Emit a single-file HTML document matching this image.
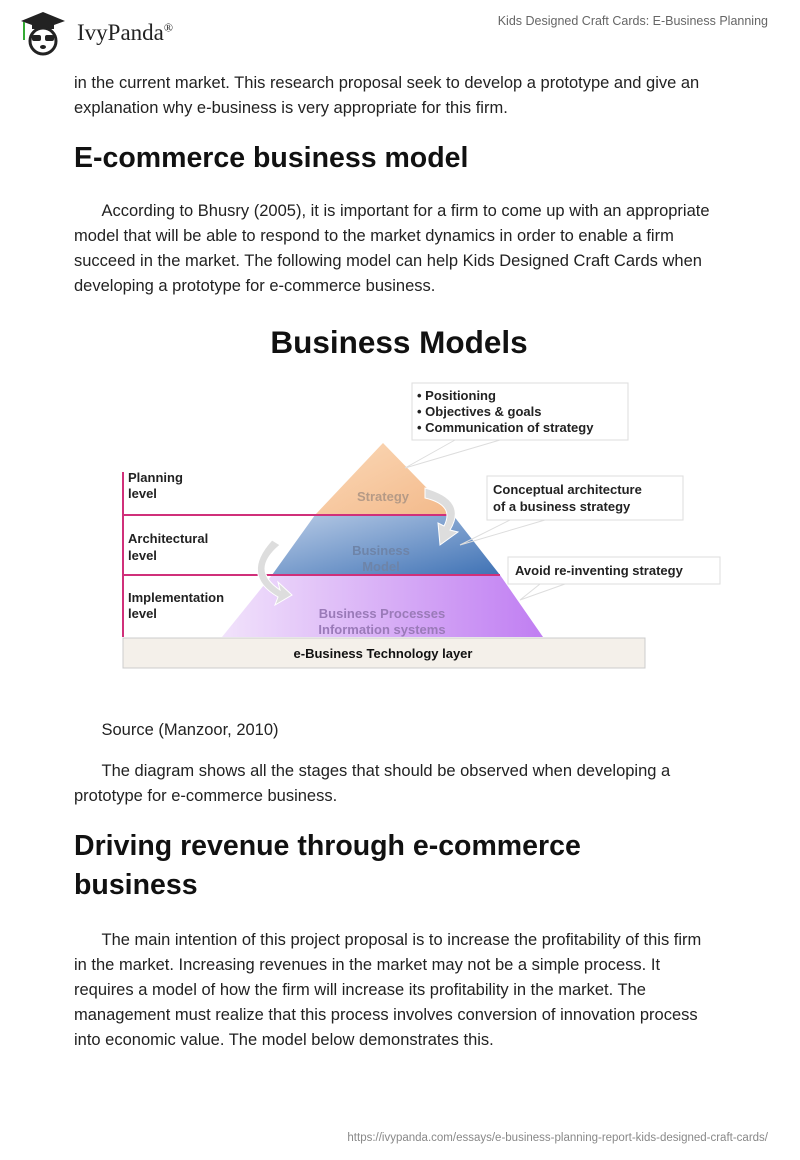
<!DOCTYPE html>
<html><head><meta charset="utf-8"><style>
body{margin:0;background:#fff;font-family:"Liberation Sans",Arial,sans-serif;color:#222;}
.wrap{position:relative;width:800px;height:1160px;overflow:hidden}
.t{position:absolute;left:74px;font-size:16.5px;line-height:25px;width:660px;margin:0}
h2{position:absolute;left:74px;margin:0;font-size:28.5px;font-weight:bold;line-height:39px;color:#111}
</style></head><body><div class="wrap">
<svg style="position:absolute;left:18px;top:10px" width="50" height="46" viewBox="0 0 50 46">
<polygon points="25,2 47,11 25,19 3,11" fill="#222"/>
<rect x="14" y="13" width="22" height="6" fill="#222"/>
<line x1="6" y1="12" x2="6" y2="30" stroke="#3a3" stroke-width="2"/>
<circle cx="25" cy="31" r="13" fill="#fff" stroke="#222" stroke-width="3"/>
<rect x="14" y="25" width="9" height="6" rx="2" fill="#222"/><rect x="27" y="25" width="9" height="6" rx="2" fill="#222"/>
<ellipse cx="25" cy="37" rx="3" ry="2" fill="#222"/>
</svg>
<div style="position:absolute;left:77px;top:20px;font-family:'Liberation Serif',serif;font-size:23px;color:#222">IvyPanda<sup style="font-size:12px">®</sup></div>
<div style="position:absolute;right:32px;top:14px;font-size:12.5px;color:#666">Kids Designed Craft Cards: E-Business Planning</div>

<p class="t" style="top:71px">in the current market. This research proposal seek to develop a prototype and give an explanation why e-business is very appropriate for this firm.</p>
<h2 style="top:139px">E-commerce business model</h2>
<p class="t" style="top:199px">&nbsp;&nbsp;&nbsp;&nbsp;&nbsp;&nbsp;According to Bhusry (2005), it is important for a firm to come up with an appropriate model that will be able to respond to the market dynamics in order to enable a firm succeed in the market. The following model can help Kids Designed Craft Cards when developing a prototype for e-commerce business.</p>

<svg style="position:absolute;left:0;top:0" width="800" height="700" font-family="Liberation Sans,Arial,sans-serif" font-weight="bold">
<defs>
<linearGradient id="g1" x1="0" y1="0" x2="1" y2="1"><stop offset="0" stop-color="#fbd9b8"/><stop offset="1" stop-color="#f3b98a"/></linearGradient>
<linearGradient id="g2" x1="0" y1="0" x2="1" y2="1"><stop offset="0" stop-color="#b8cbe6"/><stop offset="1" stop-color="#3f72b5"/></linearGradient>
<linearGradient id="g3" x1="0" y1="0" x2="1" y2="0"><stop offset="0" stop-color="#f1e2fb"/><stop offset="1" stop-color="#c07ef2"/></linearGradient>
</defs>
<text x="399" y="353" text-anchor="middle" font-size="31.5" fill="#111">Business Models</text>
<polygon points="383,443 453,515 315,515" fill="url(#g1)"/>
<polygon points="315,515 453,515 500,575 272,575" fill="url(#g2)"/>
<polygon points="272,575 500,575 543,637 222,637" fill="url(#g3)"/>
<line x1="123" y1="472" x2="123" y2="637" stroke="#d0307a" stroke-width="2"/>
<line x1="123" y1="515" x2="453" y2="515" stroke="#d0307a" stroke-width="2"/>
<line x1="123" y1="575" x2="500" y2="575" stroke="#d0307a" stroke-width="2"/>
<rect x="123" y="638" width="522" height="30" fill="#f4f0ea" stroke="#ccc"/>
<text x="383" y="658" text-anchor="middle" font-size="13" fill="#111">e-Business Technology layer</text>
<g font-size="13" fill="#222">
<text x="128" y="482">Planning</text><text x="128" y="498">level</text>
<text x="128" y="543">Architectural</text><text x="128" y="560">level</text>
<text x="128" y="602">Implementation</text><text x="128" y="618">level</text>
</g>
<g font-size="13" fill="#8a8aa8" text-anchor="middle">
<text x="383" y="501" fill="#b59a86">Strategy</text>
<text x="381" y="555" fill="#6e84a8">Business</text><text x="381" y="571" fill="#6e84a8">Model</text>
<text x="382" y="618" fill="#9a7ab8">Business Processes</text><text x="382" y="634" fill="#9a7ab8">Information systems</text>
</g>
<path d="M425,488 Q468,500 450,530 L458,532 L440,545 L438,523 L444,526 Q455,505 425,498Z" fill="#ddd" stroke="#fff"/>
<path d="M280,545 Q250,570 280,590 L278,582 L292,595 L275,605 L278,597 Q240,575 272,540Z" fill="#ddd" stroke="#fff"/>
<g fill="#fff" stroke="#ddd">
<rect x="412" y="383" width="216" height="57"/>
<rect x="487" y="476" width="196" height="44"/>
<rect x="508" y="557" width="212" height="27"/>
</g>
<g stroke="#ddd" fill="none"><polyline points="455,440 405,468 500,440"/><polyline points="510,520 460,545 545,520"/><polyline points="540,584 520,600 565,584"/></g>
<g font-size="13" fill="#222">
<text x="417" y="400">• Positioning</text><text x="417" y="416">• Objectives &amp; goals</text><text x="417" y="432">• Communication of strategy</text>
<text x="493" y="494">Conceptual architecture</text><text x="493" y="511">of a business strategy</text>
<text x="515" y="575">Avoid re-inventing strategy</text>
</g>
</svg>

<p class="t" style="top:718px">&nbsp;&nbsp;&nbsp;&nbsp;&nbsp;&nbsp;Source (Manzoor, 2010)</p>
<p class="t" style="top:759px">&nbsp;&nbsp;&nbsp;&nbsp;&nbsp;&nbsp;The diagram shows all the stages that should be observed when developing a prototype for e-commerce business.</p>
<h2 style="top:827px">Driving revenue through e-commerce<br>business</h2>
<p class="t" style="top:928px;width:642px">&nbsp;&nbsp;&nbsp;&nbsp;&nbsp;&nbsp;The main intention of this project proposal is to increase the profitability of this firm in the market. Increasing revenues in the market may not be a simple process. It requires a model of how the firm will increase its profitability in the market. The management must realize that this process involves conversion of innovation process into economic value. The model below demonstrates this.</p>
<div style="position:absolute;right:32px;top:1132px;font-size:11.5px;color:#888">https://ivypanda.com/essays/e-business-planning-report-kids-designed-craft-cards/</div>
</div></body></html>
